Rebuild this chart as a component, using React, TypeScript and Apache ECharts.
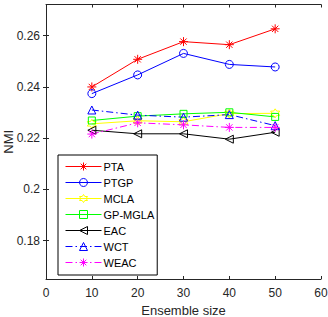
import React, { useEffect, useRef } from "react";
import * as echarts from "echarts";

const ensembleSizes = [10, 20, 30, 40, 50];
const yTicks = [0.18, 0.2, 0.22, 0.24, 0.26];
const ptaValues = [0.24, 0.2508, 0.2577, 0.2565, 0.2627];
const ptgpValues = [0.2374, 0.2447, 0.2531, 0.2488, 0.2478];
const mclaValues = [0.2256, 0.2268, 0.2264, 0.2296, 0.2297];
const gpmglaValues = [0.2269, 0.2286, 0.2295, 0.2301, 0.2283];
const eacValues = [0.2231, 0.2217, 0.2217, 0.2196, 0.2223];
const wctValues = [0.231, 0.229, 0.2282, 0.2292, 0.2249];
const weacValues = [0.2216, 0.226, 0.2252, 0.2242, 0.2242];

const ASTERISK = "path://M0,-10L0,10M-10,0L10,0M-7,-7L7,7M-7,7L7,-7";
const HEXAGRAM =
  "path://M0,-10L2.89,-5L8.66,-5L5.77,0L8.66,5L2.89,5L0,10L-2.89,5L-8.66,5L-5.77,0L-8.66,-5L-2.89,-5Z";
const LEFT_TRI = "path://M0,5L10,0L10,10Z";
const DASHDOT = [7, 3, 1.5, 3];

function mk(name: string, vals: number[], color: string, symbol: string, size: number, dash: any) {
  return {
    name,
    type: "line",
    data: ensembleSizes.map((x, i) => [x, vals[i]]),
    symbol,
    symbolSize: size,
    showSymbol: true,
    lineStyle: { color, width: 1, type: dash },
    itemStyle: { color: "rgba(0,0,0,0)", borderColor: color, borderWidth: 1 },
    emphasis: { disabled: true },
  };
}

export default function App() {
  const ref = useRef<HTMLDivElement>(null);
  useEffect(() => {
    const chart = echarts.init(ref.current!, null, { renderer: "svg" });
    const axisCol = "#262626";
    const font = "Liberation Sans, Arial, sans-serif";
    chart.setOption({
      animation: false,
      grid: { left: 46, right: 7, top: 4.5, bottom: 38, containLabel: false, outerBoundsMode: "none" },
      legend: {
        orient: "vertical",
        left: 58,
        top: 155,
        backgroundColor: "#fff",
        borderColor: "#000",
        borderWidth: 1,
        borderRadius: 0,
        padding: [6, 3, 7, 7],
        itemWidth: 36,
        itemHeight: 10,
        itemGap: 5,
        lineStyle: { width: 1 },
        itemStyle: { borderWidth: 1 },
        textStyle: { fontSize: 11, fontFamily: font, color: "#000", lineHeight: 10, padding: [0, 0, 0, -3] },
        data: ["PTA", "PTGP", "MCLA", "GP-MGLA", "EAC", "WCT", "WEAC"],
      },
      xAxis: [
        {
          type: "value",
          min: 0,
          max: 60,
          interval: 10,
          name: "Ensemble size",
          nameLocation: "middle",
          nameGap: 25,
          nameMoveOverlap: false,
          nameTextStyle: { fontSize: 13, fontFamily: font, color: axisCol },
          axisLine: { lineStyle: { color: axisCol, width: 1 } },
          axisTick: { inside: true, length: 3, lineStyle: { color: axisCol } },
          axisLabel: { fontSize: 12, fontFamily: font, color: axisCol, margin: 8 },
          splitLine: { show: false },
        },
        {
          type: "value",
          position: "top",
          min: 0,
          max: 60,
          interval: 10,
          axisLine: { show: true, lineStyle: { color: axisCol, width: 1 } },
          axisTick: { inside: true, length: 3, lineStyle: { color: axisCol } },
          axisLabel: { show: false },
          splitLine: { show: false },
        },
      ],
      yAxis: [
        {
          type: "value",
          min: 0.165,
          max: 0.2722,
          name: "NMI",
          nameLocation: "middle",
          nameGap: 31,
          nameMoveOverlap: false,
          nameTextStyle: { fontSize: 13, fontFamily: font, color: axisCol },
          axisLine: { show: true, lineStyle: { color: axisCol, width: 1 } },
          axisTick: { inside: true, length: 3, lineStyle: { color: axisCol }, customValues: yTicks },
          axisLabel: {
            fontSize: 12,
            fontFamily: font,
            color: axisCol,
            margin: 6,
            customValues: yTicks,
            formatter: (v: number) => String(Math.round(v * 100) / 100),
          },
          splitLine: { show: false },
        },
        {
          type: "value",
          position: "right",
          min: 0.165,
          max: 0.2722,
          axisLine: { show: true, lineStyle: { color: axisCol, width: 1 } },
          axisTick: { inside: true, length: 3, lineStyle: { color: axisCol }, customValues: yTicks },
          axisLabel: { show: false, customValues: yTicks },
          splitLine: { show: false },
        },
      ],
      series: [
        mk("PTA", ptaValues, "#ff0000", ASTERISK, 9, "solid"),
        mk("PTGP", ptgpValues, "#0000ff", "circle", 8, "solid"),
        mk("MCLA", mclaValues, "#ffff00", HEXAGRAM, 9, "solid"),
        mk("GP-MGLA", gpmglaValues, "#00ff00", "rect", 7, "solid"),
        mk("EAC", eacValues, "#000000", LEFT_TRI, 8, "solid"),
        mk("WCT", wctValues, "#0000ff", "triangle", 8, DASHDOT),
        mk("WEAC", weacValues, "#ff00ff", ASTERISK, 9, DASHDOT),
      ],
    });
    return () => chart.dispose();
  }, []);
  return <div ref={ref} style={{ width: 328, height: 317, position: "absolute", left: 0, top: 0 }} />;
}
